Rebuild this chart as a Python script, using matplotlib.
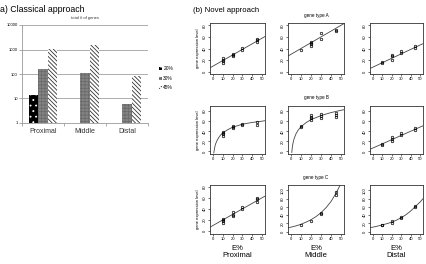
import numpy as np
import matplotlib
matplotlib.use("Agg")
import matplotlib.pyplot as plt
from matplotlib.patches import Patch

plt.rcParams['font.family'] = ['Liberation Sans', 'DejaVu Sans']
plt.rcParams['hatch.linewidth'] = 0.6

# ---- panel a: total number of genes ----
regions = ["Proximal", "Middle", "Distal"]
pct_labels = ["20%", "30%", "45%"]
genes_20 = [13, np.nan, np.nan]
genes_30 = [160, 110, 5]
genes_45 = [1000, 1500, 80]

# ---- panel b: gene expression vs E% (rows: gene type A, B, C; cols: Proximal, Middle, Distal) ----
gene_types = ["gene type A", "gene type B", "gene type C"]
xticks_b = [0, 10, 20, 30, 40, 50]

# measured points per subplot
pts_x = {
    (0, 0): [10, 10, 10, 10, 20, 20, 20, 30, 30, 45, 45, 45],
    (0, 1): [10, 20, 20, 20, 20, 30, 30, 45, 45],
    (0, 2): [10, 10, 20, 20, 20, 30, 30, 45, 45],
    (1, 0): [10, 10, 10, 10, 20, 20, 20, 30, 30, 45, 45],
    (1, 1): [10, 10, 20, 20, 20, 20, 30, 30, 30, 45, 45, 45],
    (1, 2): [10, 10, 20, 20, 20, 30, 30, 45, 45],
    (2, 0): [10, 10, 10, 10, 20, 20, 20, 30, 30, 45, 45, 45],
    (2, 1): [10, 20, 30, 30, 45, 45],
    (2, 2): [10, 10, 20, 20, 30, 30, 45, 45],
}
pts_y = {
    (0, 0): [24, 21, 18, 15, 31, 29, 27, 41, 38, 57, 54, 51],
    (0, 1): [38, 51, 49, 47, 45, 66, 57, 72, 71],
    (0, 2): [16, 15, 29, 27, 20, 36, 33, 44, 41],
    (1, 0): [39, 37, 34, 30, 51, 48, 46, 55, 52, 58, 53],
    (1, 1): [51, 49, 72, 68, 66, 62, 75, 70, 66, 77, 72, 68],
    (1, 2): [14.4, 13, 29, 25, 20, 36, 33, 46, 43],
    (2, 0): [22, 20, 18, 14, 34, 30, 28, 43, 40, 60, 57, 53],
    (2, 1): [17, 27, 46, 43, 97, 89],
    (2, 2): [17, 15, 25, 22, 35, 33, 62, 59],
}
# fitted curves
fit_x = {
    (0, 0): [-5, 55],
    (0, 1): [-5, 55],
    (0, 2): [-5, 55],
    (1, 0): [0.9, 1.5, 2.5, 4, 6, 8, 10, 15, 20, 30, 40, 50, 55],
    (1, 1): [0.8, 1.2, 1.5, 2, 3, 5, 7, 10, 15, 20, 30, 40, 50, 55],
    (1, 2): [-5, 55],
    (2, 0): [-5, 55],
    (2, 1): [-5, 0, 5, 10, 15, 20, 25, 30, 35, 40, 45, 50],
    (2, 2): [-5, 0, 5, 10, 15, 20, 25, 30, 35, 40, 45, 50, 55],
}
fit_y = {
    (0, 0): [4.7, 62.6],
    (0, 1): [25, 85],
    (0, 2): [4.0, 49.9],
    (1, 0): [-3, 5, 14, 21, 28, 33, 37, 43, 48, 54, 57.5, 60, 61.5],
    (1, 1): [-2, 6, 10.7, 16.5, 24.7, 35, 41.8, 49, 57, 63, 71, 77, 81.5, 83.5],
    (1, 2): [2.65, 52.5],
    (2, 0): [5.3, 65],
    (2, 1): [8, 11, 14, 18, 23, 29, 36.5, 46, 58, 73, 93, 117],
    (2, 2): [9, 11, 13.5, 16.5, 19.5, 23, 28, 34, 41, 50, 61, 72, 85],
}
ylims = {0: (-4, 84), 1: (-5, 90), 2: (-5, 83)}
ylims_big = (-5.6, 113)

W, H = 427, 264
fig = plt.figure(figsize=(W / 100, H / 100), dpi=100)

def fx(px):
    return px / W

def fy(py):
    return 1 - py / H

# ---------- panel a ----------
fig.text(fx(0), fy(10), "a) Classical approach", fontsize=6.3, va='center', ha='left')
axa = fig.add_axes([fx(22), fy(123), fx(148) - fx(22), fy(25) - fy(123)])
xpos = np.arange(len(regions))
bw = 0.23
styles = [
    dict(facecolor='black', edgecolor='white', hatch='...'),
    dict(facecolor='#858585', edgecolor='#6a6a6a', hatch='+++++'),
    dict(facecolor='white', edgecolor='#333333', hatch='\\' * 8),
]
for i, vals in enumerate([genes_20, genes_30, genes_45]):
    axa.bar(xpos + (i - 1) * bw, vals, bw, bottom=1, linewidth=0, zorder=3, **styles[i])
axa.set_yscale('log')
axa.set_ylim(1, 10000)
axa.set_xlim(-0.5, 2.5)
axa.set_yticks([1, 10, 100, 1000, 10000])
axa.set_yticklabels(["1", "10", "100", "1000", "10000"])
axa.minorticks_off()
axa.yaxis.grid(True, color='#a0a0a0', linewidth=0.6, zorder=0)
axa.set_axisbelow(True)
axa.set_xticks([-0.5, 0.5, 1.5, 2.5])
axa.set_xticklabels([])
axa.tick_params(axis='x', length=2, width=0.5, color='#888888')
axa.tick_params(axis='y', labelsize=3, length=2, width=0.5, color='#888888', pad=1)
for i, r in enumerate(regions):
    axa.text(i, -0.085, r, transform=axa.get_xaxis_transform(), ha='center', va='center',
             fontsize=5, color='#333333')
for s in ['top', 'right']:
    axa.spines[s].set_visible(False)
for s in ['left', 'bottom']:
    axa.spines[s].set_color('#999999')
    axa.spines[s].set_linewidth(0.6)
axa.set_title("total # of genes", fontsize=3, pad=4, color='#333333')

handles = [Patch(linewidth=0, **st) for st in styles]
fig.legend(handles, pct_labels, loc='upper left', bbox_to_anchor=(fx(157), fy(64)),
           frameon=False, fontsize=3.5, handlelength=0.6, handleheight=0.6,
           handletextpad=0.2, labelspacing=0.9, borderpad=0)

# ---------- panel b ----------
fig.text(fx(193), fy(10), "(b) Novel approach", fontsize=5.6, va='center', ha='left')
col_lr = [(210, 265), (288, 344), (370, 423)]
row_tb = [(23, 74), (106, 154), (185, 234)]
title_y = [16, 98, 177]
for r in range(3):
    for c in range(3):
        l, rt = col_lr[c]
        t, b = row_tb[r]
        ax = fig.add_axes([fx(l), fy(b), fx(rt) - fx(l), fy(t) - fy(b)])
        ax.plot(fit_x[(r, c)], fit_y[(r, c)], color='#444444', linewidth=0.6)
        ax.plot(pts_x[(r, c)], pts_y[(r, c)], 'o', mfc='none', mec='black', ms=1.8, mew=0.5)
        ax.set_xlim(-3, 53)
        if r == 2 and c > 0:
            ax.set_ylim(*ylims_big)
            ax.set_yticks([0, 20, 40, 60, 80, 100])
        else:
            ax.set_ylim(*ylims[r])
            ax.set_yticks([0, 20, 40, 60, 80])
        ax.set_xticks(xticks_b)
        ax.tick_params(labelsize=3, length=1.5, width=0.4, pad=1)
        for lab in ax.get_yticklabels():
            lab.set_rotation(90)
            lab.set_va('center')
        for s in ax.spines.values():
            s.set_linewidth(0.6)
            s.set_color('#333333')
        if c == 0:
            ax.set_ylabel("gene expression level", fontsize=3, labelpad=2)
        if c == 1:
            fig.text(fx(316), fy(title_y[r]), gene_types[r], fontsize=3.3, ha='center', va='center')
        if r == 2:
            ax.text(0.5, -0.3, "E%", transform=ax.transAxes, ha='center', va='center', fontsize=5.5)
            ax.text(0.5, -0.44, regions[c], transform=ax.transAxes, ha='center', va='center', fontsize=5.5)

fig.savefig("out.png", dpi=100)
